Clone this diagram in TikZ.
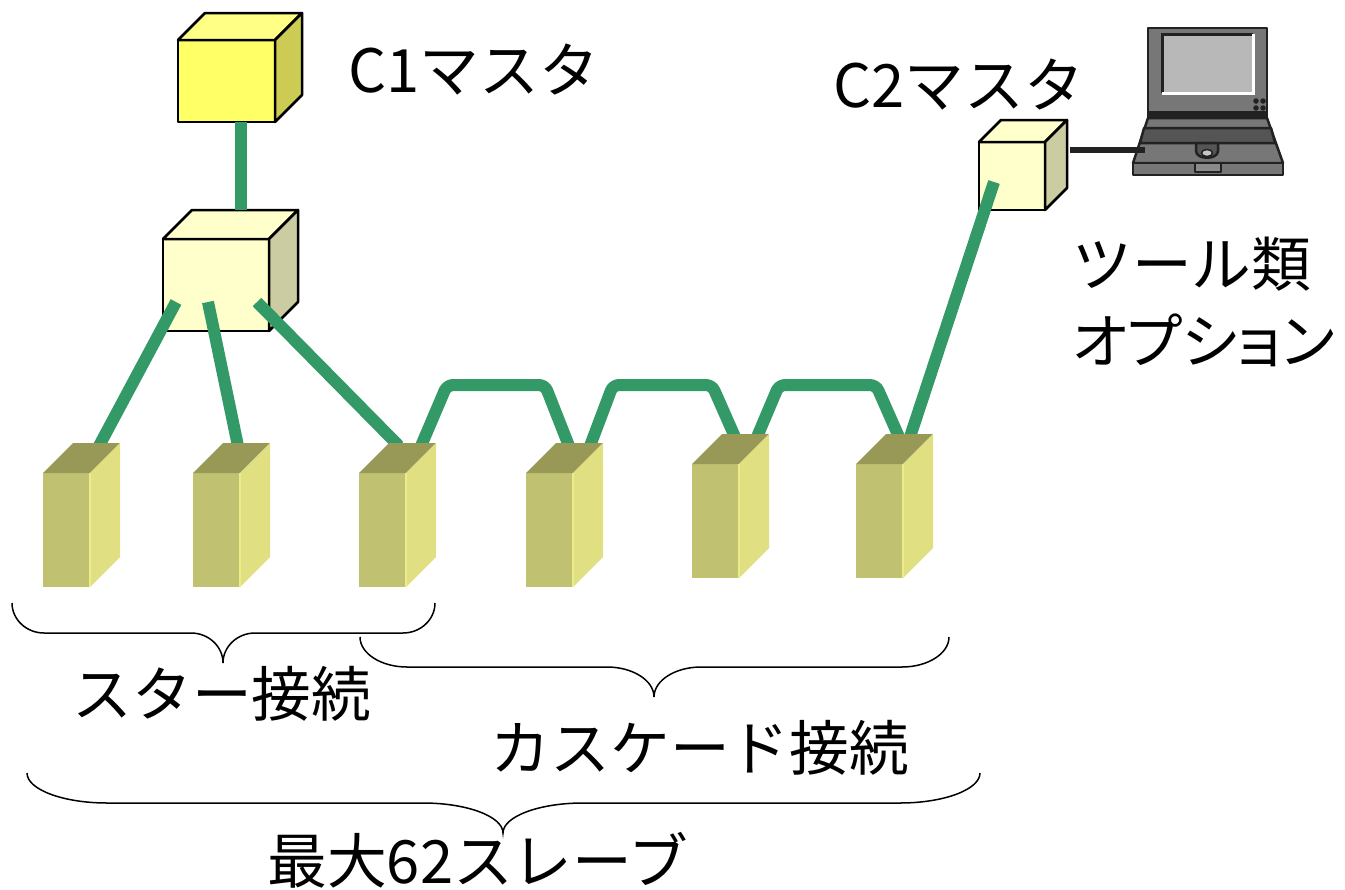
\documentclass[tikz,border=0pt]{standalone}
\usepackage{fontspec}
\setmainfont{Noto Sans CJK JP}
\usepackage{tikz}
\usetikzlibrary{calc}
\definecolor{busgreen}{HTML}{339966}
\definecolor{mastyellow}{HTML}{FFFF66}
\definecolor{masttop}{HTML}{FFFF85}
\definecolor{mastside}{HTML}{CCCC55}
\definecolor{hubcream}{HTML}{FFFFCC}
\definecolor{hubside}{HTML}{CCCCA3}
\definecolor{slvfront}{HTML}{C1C172}
\definecolor{slvtop}{HTML}{989857}
\definecolor{slvside}{HTML}{E0E083}
\definecolor{slvedge}{HTML}{ECEC88}
\definecolor{pcbody}{HTML}{777777}
\definecolor{pcdark}{HTML}{222222}
\definecolor{pckeys}{HTML}{555555}
\definecolor{pcscreen}{HTML}{B8B8B8}
% box with front face at (#2,#3), size #4 x #5, depth #6; #1 picks the face styles
\newcommand{\drawcube}[6]{%
  \fill[#1 front] (#2,#3) rectangle ++(#4,#5);
  \fill[#1 top] (#2,#3) -- ++(#6,-#6) -- ++(#4,0) -- ++(-#6,#6) -- cycle;
  \fill[#1 side] (#2+#4,#3) -- ++(#6,-#6) -- ++(0,#5) -- ++(-#6,#6) -- cycle;
}
% curly brace opening upwards: left x, tip x, right x, top y, half height, curve width
\newcommand{\hbrace}[6]{%
  \draw[brace] (#1,#4) .. controls (#1,#4+0.55*#5) and (#1+0.45*#6,#4+#5) .. (#1+#6,#4+#5)
    -- (#2-#6,#4+#5) .. controls (#2-0.45*#6,#4+#5) and (#2,#4+1.45*#5) .. (#2,#4+2*#5)
    .. controls (#2,#4+1.45*#5) and (#2+0.45*#6,#4+#5) .. (#2+#6,#4+#5)
    -- (#3-#6,#4+#5) .. controls (#3-0.45*#6,#4+#5) and (#3,#4+0.55*#5) .. (#3,#4);
}
\newcommand{\narrowkana}[1]{{\addfontfeature{RawFeature=+palt}#1}}

\begin{document}
\begin{tikzpicture}[
  x=0.2mm, y=-0.2mm,
  lbl/.style={inner sep=0pt, font=\fontsize{34}{42}\selectfont},
  master front/.style={fill=mastyellow, draw=black, line width=0.5mm, line join=round},
  master top/.style={fill=masttop, draw=black, line width=0.5mm, line join=round},
  master side/.style={fill=mastside, draw=black, line width=0.5mm, line join=round},
  hub front/.style={fill=hubcream, draw=black, line width=0.5mm, line join=round},
  hub top/.style={fill=hubcream, draw=black, line width=0.5mm, line join=round},
  hub side/.style={fill=hubside, draw=black, line width=0.5mm, line join=round},
  slave front/.style={fill=slvfront},
  slave top/.style={fill=slvtop},
  slave side/.style={fill=slvside},
  bus/.style={busgreen, line width=2.4mm, line join=round, rounded corners=1.2mm},
  brace/.style={line width=0.3mm},
  pc/.style={fill=pcbody, draw=pcdark, line width=0.5mm, line join=round}
]
\useasboundingbox (0,0) rectangle (1345,890);

\drawcube{master}{178}{40}{97}{82}{27}
\drawcube{hub}{163}{239}{106}{92}{29}
\drawcube{hub}{979}{142}{66}{68}{22}

\fill[pc] (1148,28) rectangle (1267,118);
\fill[pcscreen] (1162,34) rectangle (1253,93);
\draw[pcdark, line width=0.6mm] (1162,93) -- (1162,34) -- (1253,34);
\draw[white, line width=0.6mm] (1253,34) -- (1253,93) -- (1162,93);
\foreach \dx/\dy in {1256/101,1263/101,1256/108,1263/108}
  \fill[pcdark] (\dx,\dy) circle (0.55mm);
\fill[pcdark] (1148,111) rectangle (1267,118);
\fill[pc] (1148,118) -- (1267,118) -- (1283,163) -- (1133,163) -- cycle;
\fill[pc, fill=pckeys] (1144,128) -- (1271,128) -- (1275,143) -- (1140,143) -- cycle;
\fill[pc, fill=pckeys] (1196,143) -- (1196,151) .. controls (1196,160) and (1218,160) .. (1218,151) -- (1218,143) -- cycle;
\filldraw[fill=pcscreen!80, draw=pcdark, line width=0.3mm] (1207,153) ellipse (1.1mm and 0.7mm);
\fill[pc] (1133,163) rectangle (1283,175);
\fill[pc, fill=pcbody!85] (1195,163) rectangle (1221,172);

\coordinate (c1-bot) at (241,122);
\coordinate (hub-top) at (241,210);
\coordinate (hub-p1) at (176,302);
\coordinate (hub-p2) at (208,302);
\coordinate (hub-p3) at (257,302);
\coordinate (c2-bus) at (994,182);
\coordinate (c2-pc) at (1070,150);
\coordinate (pc-in) at (1145,150);
\coordinate (s1-in) at (99,446);
\coordinate (s2-in) at (238,446);
\coordinate (s3-in) at (399,446);
\coordinate (s3-out) at (421,446);
\coordinate (s4-in) at (569,446);
\coordinate (s4-out) at (590,446);
\coordinate (s5-in) at (735,437);
\coordinate (s5-out) at (757,437);
\coordinate (s6-in) at (899,437);
\coordinate (s6-up) at (910,437);

\draw[pcdark, line width=1.1mm] (c2-pc) -- (pc-in);
\draw[bus] (c1-bot) -- (hub-top);
\draw[bus] (hub-p1) -- (s1-in);
\draw[bus] (hub-p2) -- (s2-in);
\draw[bus] (hub-p3) -- (s3-in);
\draw[bus] (s3-out) -- (447,385) -- (545,385) -- (s4-in);
\draw[bus] (s4-out) -- (613,385) -- (712,385) -- (s5-in);
\draw[bus] (s5-out) -- (779,385) -- (876,385) -- (s6-in);
\draw[bus] (c2-bus) -- (s6-up);

\foreach \sx/\sy in {43/473,193/473,359/473,526/473,692/464,856/464} {
  \drawcube{slave}{\sx}{\sy}{47}{114}{30}
  \draw[slvedge, line width=0.4mm] (\sx+47,\sy) -- ++(0,114);
}

\hbrace{12}{223}{435}{603}{30}{32}
\hbrace{360}{654}{949}{637}{30}{47}
\hbrace{27}{503}{980}{773}{30}{80}

\node[lbl, anchor=west] (c1lbl) at (348,70) {C1マスタ};
\node[lbl, anchor=west] (c2lbl) at (833,85) {C2マスタ};
\node[lbl, anchor=west, align=left, font=\fontsize{34}{44}\selectfont] (toollbl) at (1072,302) {ツール類\\\narrowkana{オプション}};
\node[lbl] (starlbl) at (222,694) {スター接続};
\node[lbl] (cascadelbl) at (700,748) {カスケード接続};
\node[lbl] (totallbl) at (478,860) {最大62スレーブ};
\end{tikzpicture}
\end{document}
